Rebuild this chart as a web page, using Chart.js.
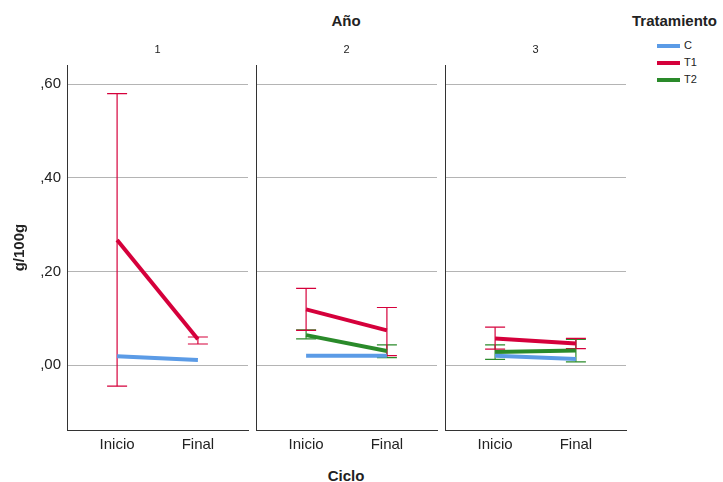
<!DOCTYPE html>
<html>
<head>
<meta charset="utf-8">
<script src="https://cdn.jsdelivr.net/npm/chart.js@4"></script>
<style>
  body { margin: 0; background: #fff; font-family: "Liberation Sans", Arial, sans-serif; }
  #wrap { position: relative; width: 723px; height: 482px; overflow: hidden; }
  canvas { position: absolute; }
  .t { position: absolute; font-weight: bold; font-size: 15px; line-height: 18px; color: #222; white-space: nowrap; }
  .item { height: 17px; line-height: 17px; font-size: 11px; color: #222; }
  .item span { display: inline-block; width: 23px; height: 4px; vertical-align: middle; margin-right: 4px; }
</style>
</head>
<body>
<div id="wrap">
  <div class="t" style="left:346px;top:12px;transform:translateX(-50%)">Año</div>
  <div class="t" style="left:346px;top:467px;transform:translateX(-50%)">Ciclo</div>
  <div class="t" style="left:632px;top:12px">Tratamiento</div>
  <div id="leg" style="position:absolute;left:657px;top:37px"></div>
  <canvas id="p0"></canvas>
  <canvas id="p1"></canvas>
  <canvas id="p2"></canvas>
</div>
<script>
// categories
var ciclos = ['Inicio', 'Final'];
var anios = ['1', '2', '3'];
var yTicks = [0, 0.2, 0.4, 0.6];
var tratamientos = ['C', 'T1', 'T2'];

// means per year, [Inicio, Final]
var mediaC  = [[0.019, 0.011], [0.020, 0.020], [0.020, 0.013]];
var mediaT1 = [[0.267, 0.055], [0.119, 0.074], [0.057, 0.046]];
var mediaT2 = [null, [0.064, 0.030], [0.028, 0.031]];

// error bars, low / high
var bajoT1 = [[-0.045, 0.045], [0.074, 0.020], [0.034, 0.035]];
var altoT1 = [[0.580, 0.060], [0.164, 0.123], [0.081, 0.057]];
var bajoT2 = [null, [0.056, 0.016], [0.012, 0.007]];
var altoT2 = [null, [0.075, 0.043], [0.043, 0.055]];

var colores = ['#5b9be6', '#d5003b', '#2a8a2a'];
var medias = [mediaC, mediaT1, mediaT2];
var bajos = [null, bajoT1, bajoT2];
var altos = [null, altoT1, altoT2];

Chart.defaults.font.family = '"Liberation Sans", Arial, sans-serif';
Chart.defaults.color = '#222';

// legend
var leg = document.getElementById('leg');
tratamientos.forEach(function (t, k) {
  var d = document.createElement('div');
  d.className = 'item';
  d.innerHTML = '<span style="background:' + colores[k] + '"></span>' + t;
  leg.appendChild(d);
});

function datasetsFor(i) {
  var ds = [];
  // lines first so they are drawn on top
  medias.forEach(function (m, k) {
    if (!m[i]) return;
    ds.push({
      label: tratamientos[k],
      data: [{ x: 0, y: m[i][0] }, { x: 1, y: m[i][1] }],
      borderColor: colores[k],
      borderWidth: 4,
      pointRadius: 0,
      pointHoverRadius: 0
    });
  });
  bajos.forEach(function (b, k) {
    if (!b || !b[i]) return;
    [0, 1].forEach(function (c) {
      ds.push({
        label: tratamientos[k] + ' err',
        data: [{ x: c, y: b[i][c] }, { x: c, y: altos[k][i][c] }],
        borderColor: colores[k],
        borderWidth: 1.2,
        pointStyle: 'line',
        pointRadius: 10,
        pointHoverRadius: 10,
        pointBorderWidth: 1.2,
        pointBorderColor: colores[k]
      });
    });
  });
  return ds;
}

var panelLeft = [67, 256, 445];
var panelW = 181;

anios.forEach(function (a, i) {
  var yw = i === 0 ? 67 : 4;
  var cv = document.getElementById('p' + i);
  cv.width = yw + panelW + 2;
  cv.height = 430;
  cv.style.left = (panelLeft[i] - yw) + 'px';
  cv.style.top = '30px';

  new Chart(cv, {
    type: 'line',
    data: { datasets: datasetsFor(i) },
    options: {
      responsive: false,
      animation: false,
      layout: { autoPadding: false, padding: { left: 0, right: 2, top: 0, bottom: 0 } },
      plugins: {
        legend: { display: false },
        tooltip: { enabled: false },
        title: {
          display: true,
          text: a,
          fullSize: false,
          font: { size: 11, weight: 'normal' },
          color: '#222',
          padding: { top: 13, bottom: 9 }
        }
      },
      scales: {
        x: {
          type: 'linear',
          min: -0.62,
          max: 1.62,
          grid: { display: false, drawTicks: false },
          border: { color: '#333', width: 1 },
          afterBuildTicks: function (ax) { ax.ticks = [{ value: 0 }, { value: 1 }]; },
          afterFit: function (ax) { ax.height = 30; ax.paddingLeft = 0; ax.paddingRight = 0; },
          ticks: {
            callback: function (v) { return ciclos[v]; },
            font: { size: 15 },
            color: '#222',
            padding: 6,
            maxRotation: 0,
            autoSkip: false
          }
        },
        y: {
          type: 'linear',
          min: -0.1387,
          max: 0.6406,
          afterBuildTicks: function (ax) { ax.ticks = yTicks.map(function (v) { return { value: v }; }); },
          afterFit: function (ax) { ax.width = yw; ax.paddingTop = 0; ax.paddingBottom = 0; },
          grid: { color: '#b4b4b4', drawTicks: false },
          border: { color: '#333', width: 1 },
          ticks: {
            display: i === 0,
            font: { size: 15 },
            color: '#222',
            padding: 6,
            callback: function (v) { return ',' + v.toFixed(2).split('.')[1]; }
          },
          title: {
            display: i === 0,
            text: 'g/100g',
            font: { size: 15, weight: 'bold' },
            color: '#222',
            padding: { top: 11, bottom: 0 }
          }
        }
      }
    }
  });
});
</script>
</body>
</html>
